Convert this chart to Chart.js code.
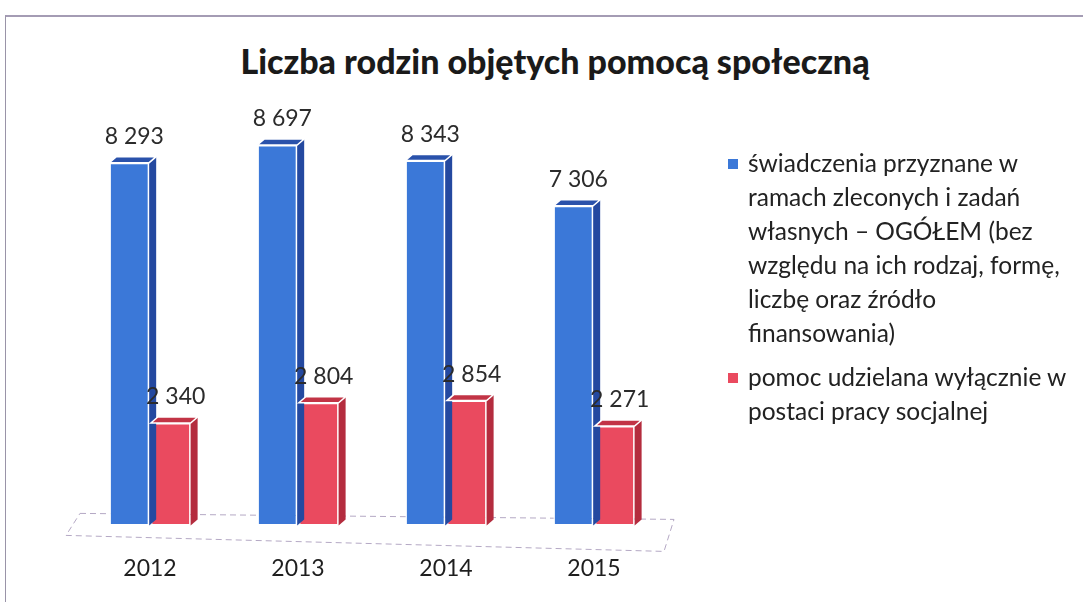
<!DOCTYPE html>
<html>
<head>
<meta charset="utf-8">
<script src="https://cdn.jsdelivr.net/npm/chart.js@4.4.1/dist/chart.umd.min.js"></script>
<style>
  html, body { margin: 0; padding: 0; background: #fff; }
  #wrap { position: relative; width: 1083px; height: 608px; overflow: hidden; font-family: Lato, "Open Sans", sans-serif; }
  #frame { position: absolute; left: 5px; top: 15px; width: 1100px; height: 585px; border-left: 1px solid #9a94a8; border-top: 2px solid #a49cb4; }
  #title { position: absolute; left: 0; width: 1110px; top: 40px; text-align: center; font-weight: 900; font-size: 34px; color: #1a1a1a; }
  canvas { position: absolute; left: 0; top: 0; }
  #legend { position: absolute; left: 726px; top: 146px; width: 360px; color: #222; font-size: 24.5px; line-height: 34px; }
  .item { position: relative; padding-left: 22px; margin-bottom: 10px; }
  .item .sw { position: absolute; left: 2px; top: 13px; width: 10px; height: 10px; }
</style>
</head>
<body>
<div id="wrap">
  <div id="frame"></div>
  <div id="title">Liczba rodzin objętych pomocą społeczną</div>
  <canvas id="chart" width="1083" height="608"></canvas>
  <div id="legend"></div>
</div>
<script>
const years = ["2012", "2013", "2014", "2015"];
const seriesNames = [
  "świadczenia przyznane w ramach zleconych i zadań własnych – OGÓŁEM (bez względu na ich rodzaj, formę, liczbę oraz źródło finansowania)",
  "pomoc udzielana wyłącznie w postaci pracy socjalnej"
];
const legendLines = [
  ["świadczenia przyznane w", "ramach zleconych i zadań", "własnych – OGÓŁEM (bez", "względu na ich rodzaj, formę,", "liczbę oraz źródło", "finansowania)"],
  ["pomoc udzielana wyłącznie w", "postaci pracy socjalnej"]
];
const ogolem = [8293, 8697, 8343, 7306];
const pracaSocjalna = [2340, 2804, 2854, 2271];

const colors = ["#3b78d8", "#ea4a5f"];
const sideColors = ["#2449a0", "#b42c3e"];
const topColors = ["#2a52ab", "#c23446"];

// legend
const legendEl = document.getElementById("legend");
legendLines.forEach((lines, i) => {
  const div = document.createElement("div");
  div.className = "item";
  div.innerHTML = '<span class="sw" style="background:' + colors[i] + '"></span>' + lines.join("<br>");
  legendEl.appendChild(div);
});

const fmt = (v) => String(v).replace(/\B(?=(\d{3})+(?!\d))/g, " ");

const DX = 7, DY = -6;

// 3D-ish faces and floor
const depthPlugin = {
  id: "depth",
  beforeDatasetsDraw(chart) {
    const { ctx, chartArea } = chart;
    const base = chart.scales.y.getPixelForValue(0);
    ctx.save();
    ctx.strokeStyle = "#b4a8c4";
    ctx.setLineDash([6, 4]);
    ctx.lineWidth = 1;
    ctx.beginPath();
    ctx.moveTo(chartArea.left + 4, base - 12);
    ctx.lineTo(chartArea.right + 6, base - 6);
    ctx.lineTo(chartArea.right - 4, base + 26);
    ctx.lineTo(chartArea.left - 10, base + 10);
    ctx.closePath();
    ctx.stroke();
    ctx.restore();
  },
  afterDatasetsDraw(chart) {
    const { ctx } = chart;
    ctx.save();
    chart.data.datasets.forEach((ds, di) => {
      const meta = chart.getDatasetMeta(di);
      meta.data.forEach((bar) => {
        const l = bar.x - bar.width / 2, r = bar.x + bar.width / 2;
        // side
        ctx.fillStyle = sideColors[di];
        ctx.beginPath();
        ctx.moveTo(r, bar.y);
        ctx.lineTo(r + DX, bar.y + DY);
        ctx.lineTo(r + DX, bar.base + DY);
        ctx.lineTo(r, bar.base);
        ctx.closePath();
        ctx.fill();
        // top
        ctx.fillStyle = topColors[di];
        ctx.beginPath();
        ctx.moveTo(l, bar.y);
        ctx.lineTo(l + DX, bar.y + DY);
        ctx.lineTo(r + DX, bar.y + DY);
        ctx.lineTo(r, bar.y);
        ctx.closePath();
        ctx.fill();
        ctx.strokeStyle = "#ffffff";
        ctx.lineWidth = 1.5;
        ctx.stroke();
      });
    });
    // value labels
    ctx.fillStyle = "#2b2b2b";
    ctx.font = "23px Lato, 'Open Sans', sans-serif";
    ctx.textAlign = "center";
    ctx.textBaseline = "middle";
    chart.data.datasets.forEach((ds, di) => {
      const meta = chart.getDatasetMeta(di);
      meta.data.forEach((bar, i) => {
        ctx.fillText(fmt(ds.data[i]), bar.x + 5, bar.y - 26);
      });
    });
    ctx.restore();
  }
};

const chart = new Chart(document.getElementById("chart").getContext("2d"), {
  type: "bar",
  data: {
    labels: years,
    datasets: [
      {
        label: seriesNames[0],
        data: ogolem,
        backgroundColor: colors[0],
        borderColor: "#ffffff",
        borderWidth: 1.5,
        borderSkipped: false,
      },
      {
        label: seriesNames[1],
        data: pracaSocjalna,
        backgroundColor: colors[1],
        borderColor: "#ffffff",
        borderWidth: 1.5,
        borderSkipped: false,
      },
    ],
  },
  options: {
    responsive: false,
    animation: false,
    categoryPercentage: 0.56,
    barPercentage: 0.96,
    layout: {
      padding: { left: 76, right: 415, top: 88, bottom: 5 },
    },
    plugins: {
      legend: { display: false },
      title: { display: false },
      tooltip: { enabled: false },
    },
    scales: {
      y: {
        display: false,
        min: 0,
        max: 10000,
      },
      x: {
        grid: { display: false },
        border: { display: false },
        ticks: {
          padding: 21,
          color: "#1e1e1e",
          font: { family: "Lato, 'Open Sans', sans-serif", size: 23 },
        },
      },
    },
  },
  plugins: [depthPlugin],
});
</script>
</body>
</html>
